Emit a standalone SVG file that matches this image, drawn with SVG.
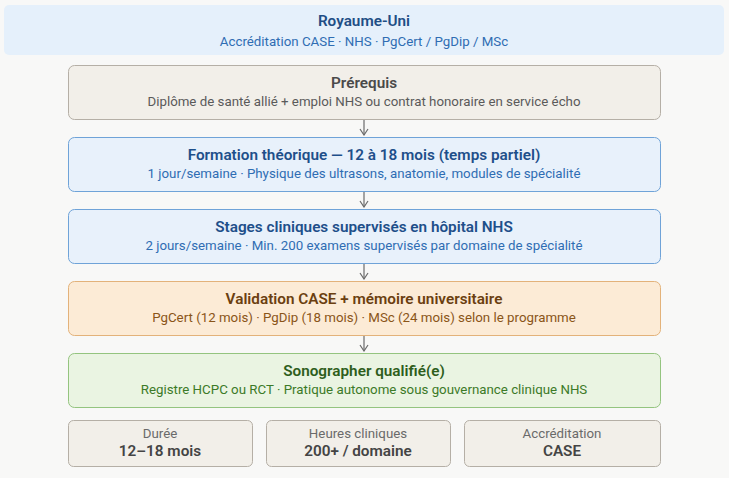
<svg xmlns="http://www.w3.org/2000/svg" width="729" height="478" viewBox="0 0 729 478">
<defs>
<marker id="ah" viewBox="0 0 10 10" refX="9" refY="5" markerWidth="10" markerHeight="10" markerUnits="userSpaceOnUse" orient="auto"><path d="M3,1 L9,5 L3,9" fill="none" stroke="#6b6b6b" stroke-width="1.2"/></marker>
</defs>
<style>
text{font-family:Roboto,"Noto Sans",sans-serif;text-anchor:middle}
.t{font-size:15.3px;font-weight:600}
.s{font-size:13.3px}
.c{font-size:13.3px;fill:#6a6a6a}
.v{font-size:15.3px;font-weight:600;fill:#444}
.g{fill:#f2efe9;stroke:#b5afa6}
.b{fill:#e8f1fb;stroke:#6fa3d8}
.o{fill:#fcebd6;stroke:#e3b27a}
.gr{fill:#eaf4e2;stroke:#94c47f}
</style>
<rect width="729" height="478" fill="#f8f8f7"/>
<g id="header"><rect x="4" y="5" width="720" height="50" rx="5" fill="#e5f0fb"/>
<text x="364" y="26" class="t" fill="#1f4e85">Royaume-Uni</text>
<text x="364" y="46" class="s" fill="#2f6db3">Accréditation CASE · NHS · PgCert / PgDip / MSc</text></g>
<g id="connectors" stroke="#6b6b6b" stroke-width="1.2" fill="none">
<line x1="364" y1="119" x2="364" y2="135" marker-end="url(#ah)"/>
<line x1="364" y1="191" x2="364" y2="207" marker-end="url(#ah)"/>
<line x1="364" y1="263" x2="364" y2="279" marker-end="url(#ah)"/>
<line x1="364" y1="335" x2="364" y2="351" marker-end="url(#ah)"/>
</g>
<g id="prerequis"><rect x="68.5" y="65.5" width="592" height="54" rx="6" class="g"/>
<text x="364" y="88" class="t" fill="#4a4a4a">Prérequis</text>
<text x="364" y="106" class="s" fill="#5a5a5a">Diplôme de santé allié + emploi NHS ou contrat honoraire en service écho</text></g>
<g id="formation"><rect x="68.5" y="137.5" width="592" height="54" rx="6" class="b"/>
<text x="364" y="160" class="t" fill="#1e4f8a">Formation théorique — 12 à 18 mois (temps partiel)</text>
<text x="364" y="178" class="s" fill="#2f6db3">1 jour/semaine · Physique des ultrasons, anatomie, modules de spécialité</text></g>
<g id="stages"><rect x="68.5" y="209.5" width="592" height="54" rx="6" class="b"/>
<text x="364" y="232" class="t" fill="#1e4f8a">Stages cliniques supervisés en hôpital NHS</text>
<text x="364" y="250" class="s" fill="#2f6db3">2 jours/semaine · Min. 200 examens supervisés par domaine de spécialité</text></g>
<g id="validation"><rect x="68.5" y="281.5" width="592" height="54" rx="6" class="o"/>
<text x="364" y="304" class="t" fill="#6b3f10">Validation CASE + mémoire universitaire</text>
<text x="364" y="322" class="s" fill="#8a5518">PgCert (12 mois) · PgDip (18 mois) · MSc (24 mois) selon le programme</text></g>
<g id="sonographer"><rect x="68.5" y="353.5" width="592" height="54" rx="6" class="gr"/>
<text x="364" y="376" class="t" fill="#2e5e1c">Sonographer qualifié(e)</text>
<text x="364" y="394" class="s" fill="#3c7a28">Registre HCPC ou RCT · Pratique autonome sous gouvernance clinique NHS</text></g>
<g id="duree"><rect x="68.5" y="420.5" width="184" height="46" rx="5" class="g"/>
<text x="160" y="438" class="c">Durée</text><text x="160" y="456" class="v">12–18 mois</text></g>
<g id="heures"><rect x="266.5" y="420.5" width="184" height="46" rx="5" class="g"/>
<text x="358" y="438" class="c">Heures cliniques</text><text x="358" y="456" class="v">200+ / domaine</text></g>
<g id="accreditation"><rect x="464.5" y="420.5" width="196" height="46" rx="5" class="g"/>
<text x="562" y="438" class="c">Accréditation</text><text x="562" y="456" class="v">CASE</text></g>
</svg>
